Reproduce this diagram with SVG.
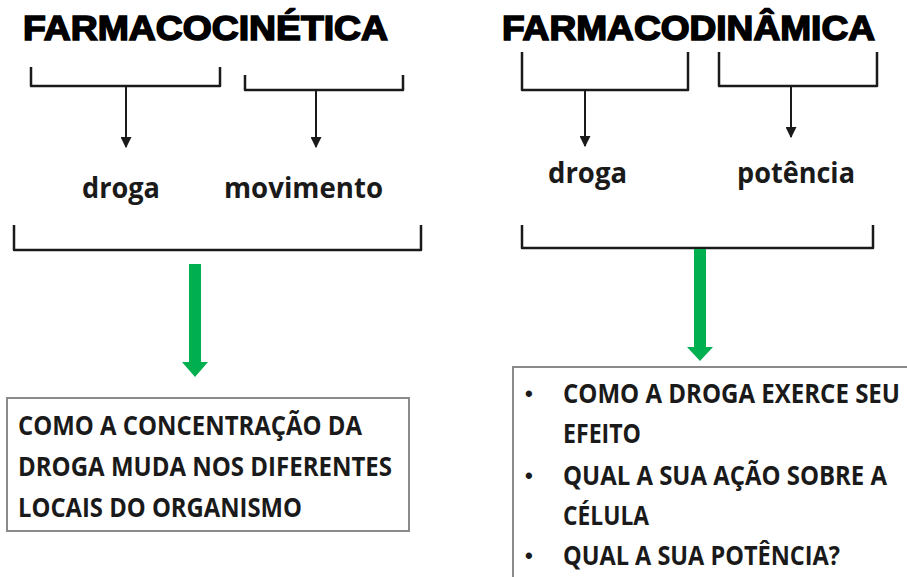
<svg xmlns="http://www.w3.org/2000/svg" width="907" height="577" viewBox="0 0 907 577">
<defs>
<style>
.title{font-family:"Liberation Sans",Arial,sans-serif;font-weight:bold;font-size:35px;fill:#000;stroke:#000;stroke-width:1.6px}
.word{font-family:"Open Sans","Liberation Sans",sans-serif;font-weight:bold;font-size:29px;fill:#1a1a1a}
.box{font-family:"Open Sans","Liberation Sans",sans-serif;font-weight:bold;font-size:26px;fill:#1a1a1a}
.bul{font-family:"Liberation Sans",sans-serif;font-weight:bold;font-size:22px;fill:#1a1a1a}
.brk{fill:none;stroke:#1a1a1a;stroke-width:2.5;stroke-linejoin:round}
.arr{fill:none;stroke:#1a1a1a;stroke-width:2;marker-end:url(#ah)}
.green{fill:#00B050}
.frame{fill:#fff;stroke:#8a8a8a;stroke-width:2}
</style>
<marker id="ah" viewBox="0 0 10 10" refX="9" refY="5" markerWidth="5.5" markerHeight="5.5" orient="auto" markerUnits="strokeWidth">
<path d="M0,0 L10,5 L0,10 z" fill="#1a1a1a"/>
</marker>
</defs>
<rect width="907" height="577" fill="#fff"/>

<g id="farmacocinetica">
<text class="title" x="23" y="40" textLength="365" lengthAdjust="spacingAndGlyphs">FARMACOCINÉTICA</text>
</g>
<g id="farmacodinamica">
<text class="title" x="502" y="40" textLength="373" lengthAdjust="spacingAndGlyphs">FARMACODINÂMICA</text>
</g>

<g id="droga-left"><text class="word" x="82" y="198" textLength="78" lengthAdjust="spacingAndGlyphs">droga</text></g>
<g id="movimento"><text class="word" x="224" y="198" textLength="159" lengthAdjust="spacingAndGlyphs">movimento</text></g>
<g id="droga-right"><text class="word" x="548" y="183" textLength="79" lengthAdjust="spacingAndGlyphs">droga</text></g>
<g id="potencia"><text class="word" x="737" y="183" textLength="118" lengthAdjust="spacingAndGlyphs">potência</text></g>

<g id="box-left">
<rect class="frame" x="7" y="398" width="402" height="133"/>
<text class="box" x="18" y="435" textLength="344" lengthAdjust="spacingAndGlyphs">COMO A CONCENTRAÇÃO DA</text>
<text class="box" x="18" y="476" textLength="374" lengthAdjust="spacingAndGlyphs">DROGA MUDA NOS DIFERENTES</text>
<text class="box" x="18" y="517" textLength="284" lengthAdjust="spacingAndGlyphs">LOCAIS DO ORGANISMO</text>
</g>

<g id="box-right">
<rect class="frame" x="513" y="367" width="420" height="240"/>
<text class="bul" x="525" y="401">•</text>
<text class="box" x="563" y="403" textLength="337" lengthAdjust="spacingAndGlyphs">COMO A DROGA EXERCE SEU</text>
<text class="box" x="563" y="443" textLength="78" lengthAdjust="spacingAndGlyphs">EFEITO</text>
<text class="bul" x="525" y="483">•</text>
<text class="box" x="563" y="485" textLength="324" lengthAdjust="spacingAndGlyphs">QUAL A SUA AÇÃO SOBRE A</text>
<text class="box" x="563" y="525" textLength="86" lengthAdjust="spacingAndGlyphs">CÉLULA</text>
<text class="bul" x="525" y="563">•</text>
<text class="box" x="563" y="565" textLength="277" lengthAdjust="spacingAndGlyphs">QUAL A SUA POTÊNCIA?</text>
</g>

<g id="connectors">
<path class="brk" d="M31,67 V86 H220 V67"/>
<path class="brk" d="M245,75 V90 H403 V75"/>
<path class="arr" d="M126,87 V147"/>
<path class="arr" d="M316,91 V147"/>
<path class="brk" d="M522,52 V90 H688 V52"/>
<path class="brk" d="M719,52 V86 H877 V52"/>
<path class="arr" d="M585,91 V146"/>
<path class="arr" d="M791,87 V137"/>
<path class="brk" d="M14,225 V250 H421 V225"/>
<path class="brk" d="M522,225 V248 H873 V225"/>
<polygon class="green" points="189,264 201,264 201,362 208,362 195,377 182,362 189,362"/>
<polygon class="green" points="694,249 706,249 706,347 713,347 700,361 687,347 694,347"/>
</g>
</svg>
